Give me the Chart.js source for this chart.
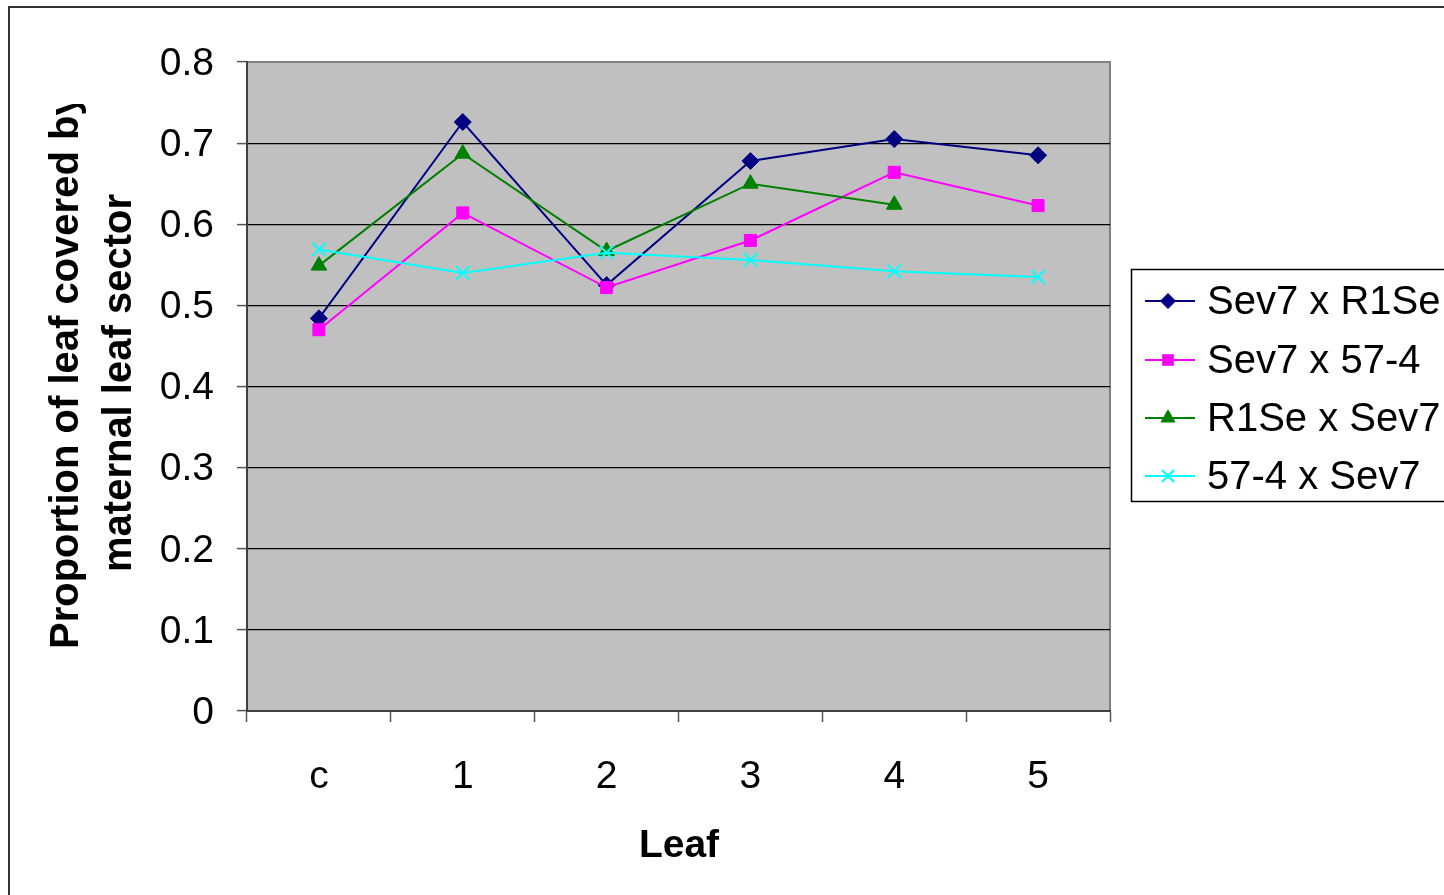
<!DOCTYPE html>
<html>
<head>
<meta charset="utf-8">
<script src="https://cdn.jsdelivr.net/npm/chart.js@4/dist/chart.umd.min.js"></script>
<style>
  html, body { margin: 0; padding: 0; background: #fff; }
  #wrap { width: 1444px; height: 895px; position: relative; }
</style>
</head>
<body>
<div id="wrap"><canvas id="c" width="1444" height="895"></canvas></div>
<script>
// Leaf positions along the shoot
const categories = ['c', '1', '2', '3', '4', '5'];

// Proportion of leaf covered by the maternal sector, one array per cross
const sev7xR1Se = [0.484, 0.726, 0.525, 0.678, 0.705, 0.685];
const sev7x574  = [0.470, 0.614, 0.522, 0.580, 0.664, 0.623];
const r1SexSev7 = [0.549, 0.687, 0.567, 0.650, 0.624, null];
const x574Sev7  = [0.569, 0.540, 0.565, 0.556, 0.542, 0.535];

const seriesNames = ['Sev7 x R1Se', 'Sev7 x 57-4', 'R1Se x Sev7', '57-4 x Sev7'];
const yTicks = [0, 0.1, 0.2, 0.3, 0.4, 0.5, 0.6, 0.7, 0.8];

const FONT = "'Liberation Sans', Arial, sans-serif";

const styles = [
  { color: '#000080', pointStyle: 'rectRot', radius: 8.5, bw: 1 },
  { color: '#FF00FF', pointStyle: 'rect', radius: 8.5, bw: 1 },
  { color: '#008000', pointStyle: 'triangle', radius: 9, bw: 1 },
  { color: '#00FFFF', pointStyle: 'crossRot', radius: 9.5, bw: 2 }
];
const values = [sev7xR1Se, sev7x574, r1SexSev7, x574Sev7];

const datasets = values.map((v, i) => ({
  label: seriesNames[i],
  data: v,
  borderColor: styles[i].color,
  backgroundColor: styles[i].color,
  pointBackgroundColor: styles[i].color,
  pointBorderColor: styles[i].color,
  pointStyle: styles[i].pointStyle,
  pointRadius: styles[i].radius,
  pointHoverRadius: styles[i].radius,
  pointBorderWidth: styles[i].bw,
  borderWidth: 2,
  tension: 0,
  fill: false,
  order: values.length - 1 - i
}));

// Page frame, grey plot area and its border
const backdrop = {
  id: 'backdrop',
  beforeDraw(chart) {
    const { ctx, chartArea: a } = chart;
    ctx.save();
    ctx.fillStyle = '#fff';
    ctx.fillRect(0, 0, chart.width, chart.height);
    ctx.strokeStyle = '#333';
    ctx.lineWidth = 2;
    ctx.strokeRect(9, 7, 1600, 1100);
    ctx.fillStyle = '#C0C0C0';
    ctx.fillRect(a.left, a.top, a.right - a.left, a.bottom - a.top);
    ctx.strokeStyle = '#808080';
    ctx.lineWidth = 2;
    ctx.beginPath();
    ctx.moveTo(a.left, a.top);
    ctx.lineTo(a.right, a.top);
    ctx.lineTo(a.right, a.bottom);
    ctx.stroke();
    ctx.restore();
  }
};

// Axis titles and the boxed legend
const annotations = {
  id: 'annotations',
  afterDraw(chart) {
    const { ctx } = chart;
    ctx.save();
    ctx.fillStyle = '#000';
    ctx.font = 'bold 39px ' + FONT;
    ctx.textAlign = 'center';
    ctx.textBaseline = 'alphabetic';
    ctx.fillText('Leaf', 679, 857);

    // vertical two-line title, clipped at the top of the frame
    ctx.save();
    ctx.beginPath();
    ctx.rect(0, 104, 240, 800);
    ctx.clip();
    ctx.font = 'bold 40px ' + FONT;
    ctx.textAlign = 'left';
    ctx.translate(78, 649);
    ctx.rotate(-Math.PI / 2);
    ctx.fillText('Proportion of leaf covered by', 0, 0);
    ctx.restore();
    ctx.save();
    ctx.font = 'bold 40px ' + FONT;
    ctx.textAlign = 'left';
    ctx.translate(131, 572);
    ctx.rotate(-Math.PI / 2);
    ctx.fillText('maternal leaf sector', 0, 0);
    ctx.restore();

    // legend
    const bx = 1131, by = 269, bw = 340, bh = 232;
    ctx.fillStyle = '#fff';
    ctx.fillRect(bx, by, bw, bh);
    ctx.strokeStyle = '#000';
    ctx.lineWidth = 1.5;
    ctx.strokeRect(bx + 0.5, by + 0.5, bw, bh);
    const rows = [301, 360, 418, 476];
    chart.data.datasets.forEach((ds, i) => {
      const y = rows[i];
      ctx.strokeStyle = ds.borderColor;
      ctx.lineWidth = 2;
      ctx.beginPath();
      ctx.moveTo(1145, y);
      ctx.lineTo(1195, y);
      ctx.stroke();
      ctx.fillStyle = ds.borderColor;
      ctx.strokeStyle = ds.borderColor;
      ctx.lineWidth = ds.pointBorderWidth;
      Chart.helpers.drawPoint(ctx, {
        pointStyle: ds.pointStyle,
        radius: ds.pointRadius - 1,
        borderWidth: ds.pointBorderWidth,
        rotation: 0
      }, 1168, y);
      ctx.fillStyle = '#000';
      ctx.font = '40px ' + FONT;
      ctx.textAlign = 'left';
      ctx.textBaseline = 'middle';
      ctx.fillText(ds.label, 1207, y + 2);
    });
    ctx.restore();
  }
};

new Chart(document.getElementById('c'), {
  type: 'line',
  data: { labels: categories, datasets },
  plugins: [backdrop, annotations],
  options: {
    responsive: false,
    animation: false,
    devicePixelRatio: 1,
    layout: { padding: { left: 0, top: 62, right: 334, bottom: 0 } },
    plugins: { legend: { display: false }, tooltip: { enabled: false } },
    scales: {
      x: {
        type: 'category',
        offset: true,
        afterFit(scale) { scale.height = 184; },
        grid: {
          offset: true,
          drawOnChartArea: false,
          drawTicks: true,
          tickLength: 11,
          tickColor: '#555',
          tickWidth: 1.5
        },
        border: { color: '#404040', width: 2 },
        ticks: {
          color: '#000',
          font: { family: FONT, size: 39 },
          padding: 32,
          maxRotation: 0
        }
      },
      y: {
        min: 0,
        max: 0.8,
        afterFit(scale) { scale.width = 247; },
        afterBuildTicks(scale) { scale.ticks = yTicks.map(v => ({ value: v })); },
        grid: {
          color: ctx => (ctx.tick && Math.abs(ctx.tick.value - 0.8) < 1e-9) ? '#808080' : '#000',
          lineWidth: 1.2,
          drawTicks: true,
          tickLength: 10,
          tickColor: '#555',
          tickWidth: 1.5
        },
        border: { color: '#404040', width: 2 },
        ticks: {
          color: '#000',
          font: { family: FONT, size: 39 },
          padding: 23,
          labelOffset: 2,
          callback: v => (v === 0 ? '0' : Number(v).toFixed(1))
        }
      }
    }
  }
});
</script>
</body>
</html>
